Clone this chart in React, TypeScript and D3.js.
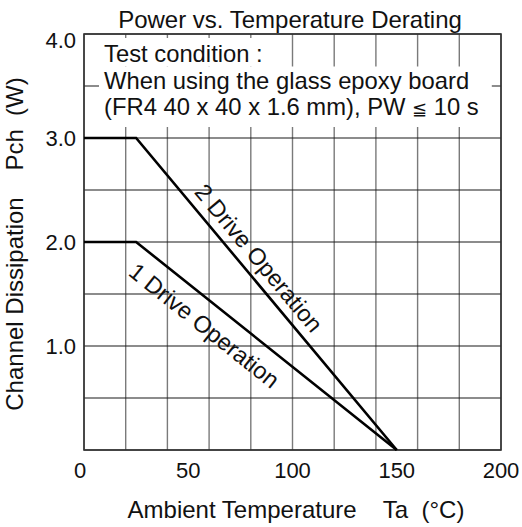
import { useEffect, useRef } from "react";
import * as d3 from "d3";

const WIDTH = 522;
const HEIGHT = 527;
const MARGIN = { top: 34, right: 21, bottom: 77, left: 84 };
const FONT = "'Liberation Sans', Arial, Helvetica, sans-serif";

// derating curves, Ta (°C) vs Pch (W)
const temperatures = [0, 25, 150];
const twoDrivePower = [3.0, 3.0, 0];
const oneDrivePower = [2.0, 2.0, 0];

const xTickValues = [0, 50, 100, 150, 200];
const yTickValues = [1.0, 2.0, 3.0, 4.0];

const noteLines = [
  "Test condition :",
  "When using the glass epoxy board",
  "(FR4 40 x 40 x 1.6 mm), PW ≦ 10 s",
];

const series = [
  { name: "2 Drive Operation", values: twoDrivePower },
  { name: "1 Drive Operation", values: oneDrivePower },
];

export default function App() {
  const svgRef = useRef<SVGSVGElement>(null);

  useEffect(() => {
    const svgElement = svgRef.current;
    if (!svgElement) return;

    const svg = d3.select(svgElement);
    svg.selectAll("*").remove();

    const x0 = MARGIN.left;
    const x1 = WIDTH - MARGIN.right;
    const y0 = HEIGHT - MARGIN.bottom;
    const y1 = MARGIN.top;

    const x = d3.scaleLinear().domain([0, 200]).range([x0, x1]);
    const y = d3.scaleLinear().domain([0, 4]).range([y0, y1]);

    svg.append("rect").attr("width", WIDTH).attr("height", HEIGHT).attr("fill", "#fff");

    // grid: grey verticals, thin dark horizontals
    svg
      .append("g")
      .attr("stroke", "#7a7a7a")
      .attr("stroke-width", 1.4)
      .selectAll("line")
      .data(x.ticks(8))
      .join("line")
      .attr("x1", (d) => x(d))
      .attr("x2", (d) => x(d))
      .attr("y1", y0)
      .attr("y2", y1);
    svg
      .append("g")
      .attr("stroke", "#1a1a1a")
      .attr("stroke-width", 1.1)
      .selectAll("line")
      .data(y.ticks(8))
      .join("line")
      .attr("x1", x0)
      .attr("x2", x1)
      .attr("y1", (d) => y(d))
      .attr("y2", (d) => y(d));

    // note box with white backing behind the text blocks
    const note = svg.append("g").attr("font-family", FONT).attr("font-size", 23.8).attr("fill", "#111");
    const noteBg = note.append("g");
    const noteText = note
      .selectAll("text")
      .data(noteLines)
      .join("text")
      .attr("x", 104)
      .attr("y", (_, i) => 62 + i * 26.5);

    // the "≦" glyph comes from a fallback font, so draw it a bit smaller
    noteText.each(function (d) {
      const el = d3.select(this);
      const parts = d.split("≦");
      parts.forEach((p, i) => {
        if (i > 0) el.append("tspan").attr("font-size", 18).text("≦");
        el.append("tspan").text(p);
      });
    });

    const boxes = noteText.nodes().map((n) => (n as SVGTextElement).getBBox());
    if (boxes.length === 3) {
      const b0 = boxes[0];
      noteBg
        .append("rect")
        .attr("x", b0.x - 5)
        .attr("y", b0.y - 2)
        .attr("width", b0.width + 20)
        .attr("height", boxes[1].y - b0.y + 2)
        .attr("fill", "#fff");
      const left = Math.min(boxes[1].x, boxes[2].x) - 5;
      const right = Math.max(boxes[1].x + boxes[1].width, boxes[2].x + boxes[2].width) + 13;
      noteBg
        .append("rect")
        .attr("x", left)
        .attr("y", boxes[1].y)
        .attr("width", right - left)
        .attr("height", boxes[2].y + boxes[2].height - boxes[1].y + 7)
        .attr("fill", "#fff");
    }

    // frame
    svg
      .append("rect")
      .attr("x", x0)
      .attr("y", y1)
      .attr("width", x1 - x0)
      .attr("height", y0 - y1)
      .attr("fill", "none")
      .attr("stroke", "#333")
      .attr("stroke-width", 1.6);

    // curves
    const line = d3
      .line<number>()
      .x((_, i) => x(temperatures[i]))
      .y((d) => y(d));

    svg
      .append("g")
      .selectAll("path")
      .data(series)
      .join("path")
      .attr("d", (s) => line(s.values))
      .attr("fill", "none")
      .attr("stroke", "#000")
      .attr("stroke-width", 2.6);

    // labels along the sloped segment
    const labelAt = [
      { t: 77.5, offset: 17 },
      { t: 64.5, offset: -23 },
    ];
    series.forEach((s, i) => {
      const ax = x(temperatures[1]);
      const ay = y(s.values[1]);
      const bx = x(temperatures[2]);
      const by = y(s.values[2]);
      const angle = Math.atan2(by - ay, bx - ax);
      const f = (labelAt[i].t - temperatures[1]) / (temperatures[2] - temperatures[1]);
      const px = ax + (bx - ax) * f + Math.sin(angle) * labelAt[i].offset;
      const py = ay + (by - ay) * f - Math.cos(angle) * labelAt[i].offset;
      svg
        .append("text")
        .attr("transform", `translate(${px},${py}) rotate(${(angle * 180) / Math.PI})`)
        .attr("text-anchor", "middle")
        .attr("dominant-baseline", "central")
        .attr("font-family", FONT)
        .attr("font-size", 23.5)
        .attr("fill", "#111")
        .text(s.name);
    });

    // tick labels
    svg
      .append("g")
      .attr("font-family", FONT)
      .attr("font-size", 22)
      .attr("fill", "#111")
      .selectAll("text")
      .data(xTickValues)
      .join("text")
      .attr("x", (d) => (d === 0 ? x(d) - 4 : x(d)))
      .attr("y", 478)
      .attr("text-anchor", "middle")
      .text((d) => d);

    svg
      .append("g")
      .attr("font-family", FONT)
      .attr("font-size", 22)
      .attr("fill", "#111")
      .selectAll("text")
      .data(yTickValues)
      .join("text")
      .attr("x", 76)
      .attr("y", (d) => Math.max(y(d), y1 + 6))
      .attr("text-anchor", "end")
      .attr("dominant-baseline", "central")
      .text((d) => d.toFixed(1));

    // titles
    svg
      .append("text")
      .attr("x", 290)
      .attr("y", 28)
      .attr("text-anchor", "middle")
      .attr("font-family", FONT)
      .attr("font-size", 24)
      .attr("fill", "#111")
      .text("Power vs. Temperature Derating");

    svg
      .append("text")
      .attr("x", 296)
      .attr("y", 518)
      .attr("text-anchor", "middle")
      .attr("font-family", FONT)
      .attr("font-size", 24)
      .attr("fill", "#111")
      .style("white-space", "pre")
      .text("Ambient Temperature    Ta  (°C)");

    svg
      .append("text")
      .attr("transform", `translate(23,${(y0 + y1) / 2 + 2}) rotate(-90)`)
      .attr("text-anchor", "middle")
      .attr("font-family", FONT)
      .attr("font-size", 24)
      .attr("fill", "#111")
      .style("white-space", "pre")
      .text("Channel Dissipation    Pch  (W)");
  }, []);

  return (
    <div style={{ position: "fixed", left: 0, top: 0 }}>
      <svg ref={svgRef} width={WIDTH} height={HEIGHT} style={{ display: "block" }} />
    </div>
  );
}
